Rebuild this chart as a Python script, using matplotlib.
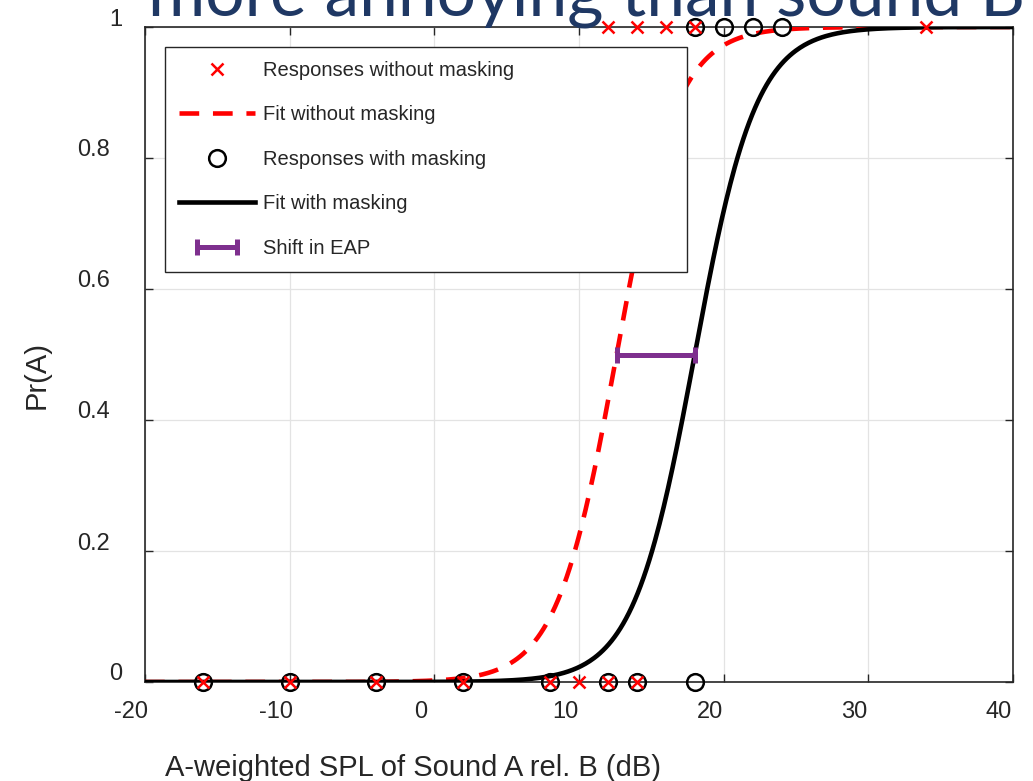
import numpy as np
import matplotlib
matplotlib.use("Agg")
import matplotlib.pyplot as plt
from matplotlib.transforms import ScaledTranslation
from matplotlib.legend_handler import HandlerErrorbar
from matplotlib.container import ErrorbarContainer

# ---- data ----
resp_nomask_x0 = [-16, -10, -4, 2, 8, 10, 12, 14]
resp_nomask_x1 = [12, 14, 16, 18, 34]
resp_mask_x0 = [-16, -10, -4, 2, 8, 12, 14, 18]
resp_mask_x1 = [18, 20, 22, 24]
eap_nomask = 12.6
eap_mask = 18.0
slope_nomask = 0.48
slope_mask = 0.47
xticks = [-20, -10, 0, 10, 20, 30, 40]
yticks = [0, 0.2, 0.4, 0.6, 0.8, 1]
ytick_labels = ["0", "0.2", "0.4", "0.6", "0.8", "1"]
title_text = "more annoying than sound B"
xlabel_text = "A-weighted SPL of Sound A rel. B (dB)"
ylabel_text = "Pr(A)"
legend_labels = ["Responses without masking", "Fit without masking",
                 "Responses with masking", "Fit with masking", "Shift in EAP"]

plt.rcParams['font.family'] = ['Liberation Sans', 'DejaVu Sans']
plt.rcParams['axes.unicode_minus'] = False

W, H = 1033, 781
fig = plt.figure(figsize=(W / 100, H / 100), dpi=100)

L, R, T, B = 145, 1013, 27, 682
ax = fig.add_axes([L / W, 1 - B / H, (R - L) / W, (B - T) / H])

xs = np.linspace(-20, 40, 600)
fit_nomask = 1 / (1 + np.exp(-slope_nomask * (xs - eap_nomask)))
fit_mask = 1 / (1 + np.exp(-slope_mask * (xs - eap_mask)))

red = '#ff0000'
purple = '#7e2f8e'

h1, = ax.plot(resp_nomask_x0 + resp_nomask_x1,
              [0] * len(resp_nomask_x0) + [1] * len(resp_nomask_x1),
              linestyle='none', marker='x', color=red, markersize=8,
              markeredgewidth=1.8, clip_on=False, zorder=5)
h2, = ax.plot(xs, fit_nomask, color=red, lw=3.3, dashes=(4.3, 3.0), zorder=3)
h3, = ax.plot(resp_mask_x0 + resp_mask_x1,
              [0] * len(resp_mask_x0) + [1] * len(resp_mask_x1),
              linestyle='none', marker='o', markerfacecolor='none',
              markeredgecolor='black', markersize=12, markeredgewidth=1.8,
              clip_on=False, zorder=4)
h4, = ax.plot(xs, fit_mask, color='black', lw=3.3, zorder=3.5)
h5 = ax.errorbar([(eap_nomask + eap_mask) / 2], [0.5],
                 xerr=[(eap_mask - eap_nomask) / 2], fmt='none',
                 ecolor=purple, elinewidth=3.6, capsize=6, capthick=3.6,
                 zorder=6)

ax.set_xlim(-20, 40)
ax.set_ylim(0, 1)
ax.set_xticks(xticks)
ax.set_yticks(yticks)
ax.set_yticklabels(ytick_labels)
ax.grid(True, color='#e3e3e3', lw=0.9)
ax.set_axisbelow(True)
for s in ax.spines.values():
    s.set_color('#262626')
    s.set_linewidth(1.2)
ax.tick_params(direction='in', length=6, width=1, colors='#262626',
               top=True, right=True, labelsize=17, labelcolor='#262626')
ax.tick_params(axis='x', pad=14)
ax.tick_params(axis='y', pad=25)

# shift tick labels like reference
for lab in ax.get_xticklabels():
    lab.set_transform(lab.get_transform() + ScaledTranslation(-14 / 100, 0, fig.dpi_scale_trans))
for lab in ax.get_yticklabels():
    dx = 12 if lab.get_text() in ("0", "1") else 0
    lab.set_transform(lab.get_transform() + ScaledTranslation(dx / 100, 10 / 100, fig.dpi_scale_trans))

ax.set_xlabel(xlabel_text, fontsize=21, color='#262626', ha='left', va='center')
ax.xaxis.set_label_coords((165 - L) / (R - L), -(768 - B) / (B - T))
ax.set_ylabel(ylabel_text, fontsize=21, color='#262626', va='center')
ax.yaxis.set_label_coords(-(L - 37) / (R - L), (B - 375) / (B - T))

lx0, lx1, ly0, ly1 = 165, 687, 47, 277
leg = ax.legend([h1, h2, h3, h4, h5], legend_labels,
                loc='upper left',
                bbox_to_anchor=((lx0 - L) / (R - L), (B - ly1) / (B - T),
                                (lx1 - lx0) / (R - L), (ly1 - ly0) / (B - T)),
                mode='expand', fontsize=14.5, handlelength=3.8,
                handletextpad=0.4, labelspacing=1.27, borderpad=0.68,
                borderaxespad=0, fancybox=False, framealpha=1,
                edgecolor='#262626',
                handler_map={ErrorbarContainer: HandlerErrorbar(xerr_size=1.0)})
leg.get_frame().set_linewidth(1.0)
for t in leg.get_texts():
    t.set_color('#262626')

# clipped slide title at top
t = fig.text(148 / W, 1 - 15 / H, title_text, fontsize=60, color='#1f3864',
             family=['Lato', 'DejaVu Sans'], va='baseline', ha='left')
fig.canvas.draw()
bb = t.get_window_extent()
t.set_fontsize(60 * (1027 - 148) / bb.width)

fig.savefig('out.png', dpi=100)
